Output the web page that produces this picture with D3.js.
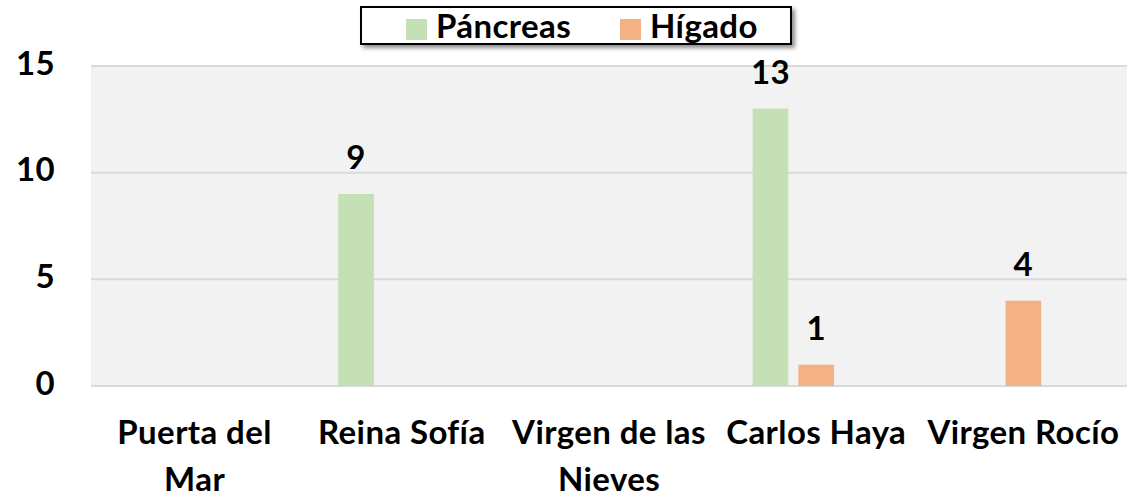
<!DOCTYPE html>
<meta charset="utf-8">
<head>
<style>
  body { margin: 0; background: #fff; }
  text { font-family: Lato, "Open Sans", sans-serif; font-weight: bold; fill: #000; letter-spacing: 0.4px; }
</style>
</head>
<script src="https://d3js.org/d3.v7.min.js"></script>
<div id="my_dataviz"></div>
<script>

// data
var hospitals = ["Puerta del Mar", "Reina Sofía", "Virgen de las Nieves", "Carlos Haya", "Virgen Rocío"];
var pancreas = [0, 9, 0, 13, 0];
var higado = [0, 0, 0, 1, 4];
var seriesNames = ["Páncreas", "Hígado"];
var yTicks = [0, 5, 10, 15];

var colors = {"Páncreas": "#c5e0b4", "Hígado": "#f4b183"};

var W = 1127, H = 497;
var margin = {top: 66, right: 0, bottom: 111, left: 91},
    width = W - margin.left - margin.right,
    height = H - margin.top - margin.bottom;

var svg = d3.select("#my_dataviz")
  .append("svg")
    .attr("width", W)
    .attr("height", H);

var defs = svg.append("defs");
var f = defs.append("filter").attr("id", "shadow")
  .attr("x", "-10%").attr("y", "-30%").attr("width", "130%").attr("height", "190%");
f.append("feDropShadow").attr("dx", 3).attr("dy", 3).attr("stdDeviation", 2)
  .attr("flood-color", "#000").attr("flood-opacity", 0.45);

var g = svg.append("g")
  .attr("transform", "translate(" + margin.left + "," + margin.top + ")");

// scales
var x = d3.scaleBand().domain(hospitals).range([0, width]).padding(0);
// Excel keeps room for a third (empty) series in each cluster
var x1 = d3.scaleBand().domain(seriesNames.concat(["_"]))
  .range([40, x.bandwidth() - 40]).paddingInner(0.22);
var y = d3.scaleLinear().domain([0, 15]).range([height, 0]);

g.append("rect")
  .attr("width", width).attr("height", height)
  .attr("fill", "#f2f2f2");

// gridlines
g.selectAll(".grid")
  .data(yTicks)
  .enter().append("line")
    .attr("x1", 0).attr("x2", width)
    .attr("y1", function(d) { return y(d); })
    .attr("y2", function(d) { return y(d); })
    .attr("stroke", "#d9d9d9").attr("stroke-width", 2);

// y axis
var yAxis = g.append("g")
  .call(d3.axisLeft(y).tickValues(yTicks).tickSize(0).tickPadding(36));
yAxis.select(".domain").remove();
yAxis.selectAll("text").style("font-size", "33px").attr("dy", "0.25em");

// x axis
var xAxis = g.append("g")
  .attr("transform", "translate(0," + height + ")")
  .call(d3.axisBottom(x).tickSize(0).tickPadding(35));
xAxis.select(".domain").remove();
xAxis.selectAll("text").style("font-size", "33px").call(wrap, x.bandwidth() - 10);

function wrap(text, w) {
  text.each(function() {
    var t = d3.select(this),
        words = t.text().split(/\s+/),
        line = [], lines = [];
    words.forEach(function(wd) {
      line.push(wd);
      t.text(line.join(" "));
      if (t.node().getComputedTextLength() > w && line.length > 1) {
        line.pop();
        lines.push(line.join(" "));
        line = [wd];
      }
    });
    lines.push(line.join(" "));
    var yy = t.attr("y");
    t.text(null);
    lines.forEach(function(l, i) {
      t.append("tspan").attr("x", 0).attr("y", yy)
        .attr("dy", (0.71 + i * 1.4) + "em").text(l);
    });
  });
}

// bars
var rows = hospitals.map(function(h, i) {
  return {hospital: h, values: [
    {key: "Páncreas", value: pancreas[i]},
    {key: "Hígado", value: higado[i]}
  ]};
});

var grp = g.selectAll(".grp")
  .data(rows)
  .enter().append("g")
    .attr("transform", function(d) { return "translate(" + x(d.hospital) + ",0)"; });

var bars = grp.selectAll("g.bar")
  .data(function(d) { return d.values.filter(function(v) { return v.value > 0; }); })
  .enter().append("g").attr("class", "bar");

bars.append("rect")
  .attr("x", function(d) { return x1(d.key); })
  .attr("y", function(d) { return y(d.value); })
  .attr("width", x1.bandwidth())
  .attr("height", function(d) { return height - y(d.value); })
  .attr("fill", function(d) { return colors[d.key]; });

bars.append("text")
  .attr("x", function(d) { return x1(d.key) + x1.bandwidth() / 2; })
  .attr("y", function(d) { return y(d.value) - 25; })
  .attr("text-anchor", "middle")
  .style("font-size", "33px")
  .text(function(d) { return d.value; });

// legend
var legend = svg.append("g").attr("transform", "translate(361,7)");
legend.append("rect")
  .attr("width", 430).attr("height", 37)
  .attr("fill", "#fff").attr("stroke", "#000").attr("stroke-width", 2)
  .attr("filter", "url(#shadow)");
var legX = [45, 259];
var items = legend.selectAll(".item")
  .data(seriesNames)
  .enter().append("g")
    .attr("transform", function(d, i) { return "translate(" + legX[i] + ",0)"; });
items.append("rect")
  .attr("y", 12).attr("width", 21).attr("height", 21)
  .attr("fill", function(d) { return colors[d]; });
items.append("text")
  .attr("x", 30).attr("y", 31)
  .style("font-size", "33px")
  .text(function(d) { return d; });

</script>
